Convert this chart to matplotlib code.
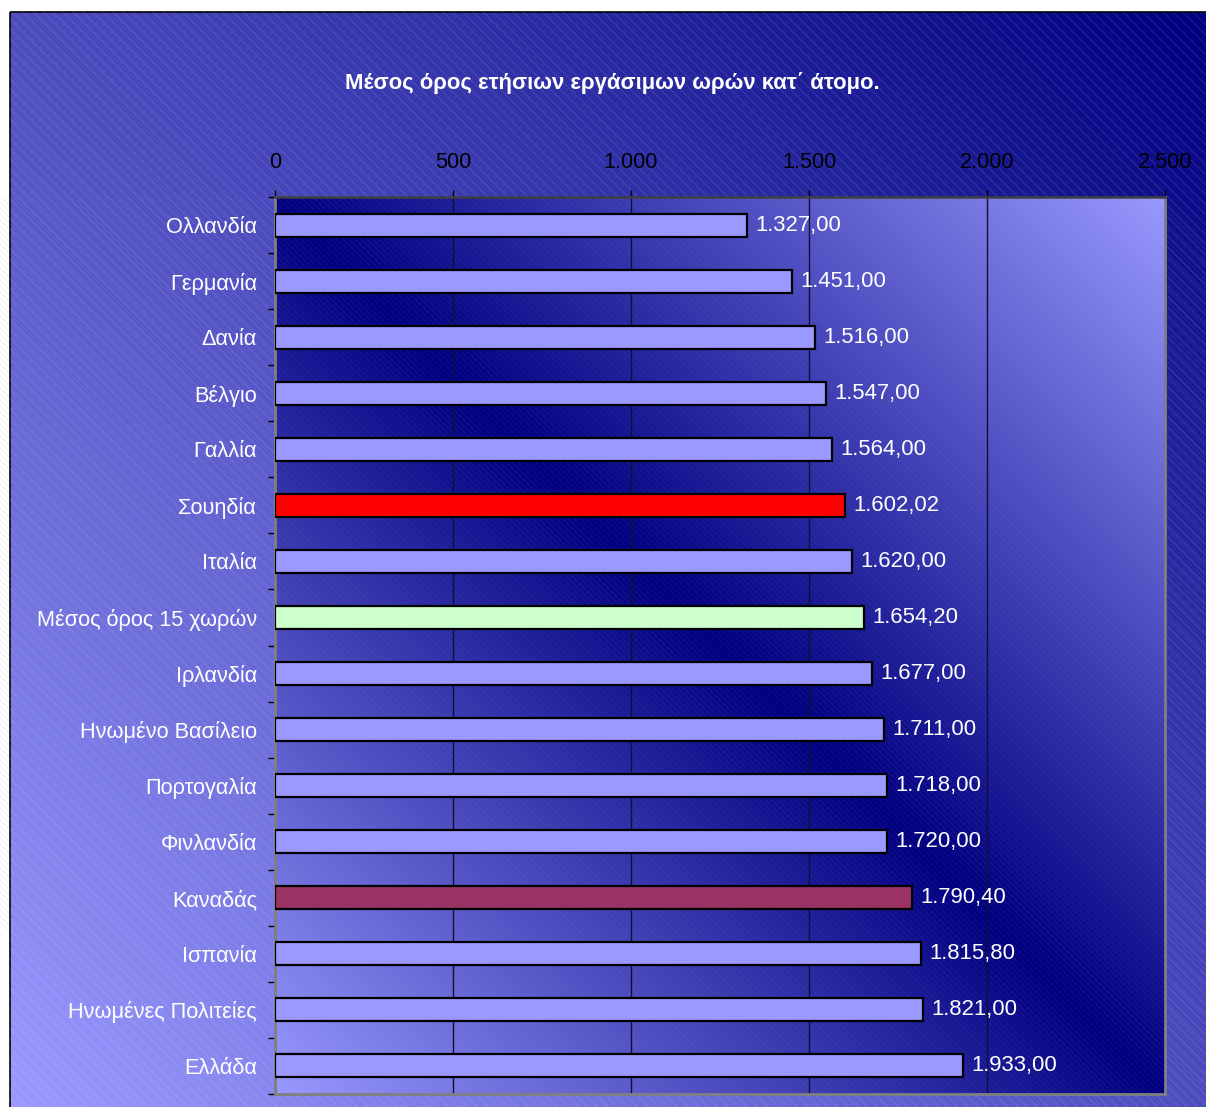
import numpy as np
import matplotlib
matplotlib.use('Agg')
import matplotlib.pyplot as plt
from matplotlib.collections import LineCollection
from matplotlib.colors import LinearSegmentedColormap
from matplotlib.patches import Rectangle

plt.rcParams['font.family'] = ['Liberation Sans', 'DejaVu Sans']

# ------------------------------------------------------------
# 数据
# ------------------------------------------------------------
title = 'Μέσος όρος ετήσιων εργάσιμων ωρών κατ΄ άτομο.'
countries = ['Ολλανδία', 'Γερμανία', 'Δανία', 'Βέλγιο', 'Γαλλία', 'Σουηδία',
             'Ιταλία', 'Μέσος όρος 15 χωρών', 'Ιρλανδία', 'Ηνωμένο Βασίλειο',
             'Πορτογαλία', 'Φινλανδία', 'Καναδάς', 'Ισπανία',
             'Ηνωμένες Πολιτείες', 'Ελλάδα']
hours = [1327.00, 1451.00, 1516.00, 1547.00, 1564.00, 1602.02,
         1620.00, 1654.20, 1677.00, 1711.00, 1718.00, 1720.00,
         1790.40, 1815.80, 1821.00, 1933.00]
x_ticks = [0, 500, 1000, 1500, 2000, 2500]

# 样式
base_color = '#9999ff'
highlight = {'Σουηδία': '#ff0000', 'Μέσος όρος 15 χωρών': '#ccffcc',
             'Καναδάς': '#993366'}


def fmt_gr(v, dec=2):
    """希腊格式: 千位用点, 小数用逗号"""
    s = f"{v:,.{dec}f}"
    return s.replace(',', '#').replace('.', ',').replace('#', '.')


W, H = 1206, 1107
fig = plt.figure(figsize=(W / 100, H / 100), dpi=100, facecolor='white')

# ------------------------------------------------------------
# 背景 (像素坐标)
# ------------------------------------------------------------
bg = fig.add_axes([0, 0, 1, 1], zorder=0)
bg.set_xlim(0, W)
bg.set_ylim(H, 0)
bg.axis('off')

cmap = LinearSegmentedColormap.from_list('blu', ['#9999ff', '#000080'])

# 图表区渐变: 左下浅 -> 右上深
fx0, fy0 = 10, 12
gx, gy = np.meshgrid(np.linspace(0, 1, 300), np.linspace(0, 1, 300))
t_fig = (gx + (1 - gy)) / 2
bg.imshow(t_fig, cmap=cmap, vmin=0, vmax=1, extent=(fx0, W, H, fy0),
          origin='upper', aspect='auto', interpolation='bilinear', zorder=0)

frame = Rectangle((fx0, fy0), W, H, fill=False, edgecolor='black', lw=1.2, zorder=1)
bg.add_patch(frame)

# 斜线纹理
segs = [[(x0, fy0), (x0 + H, fy0 + H)] for x0 in np.arange(fx0 - H, W, 10)]
lc = LineCollection(segs, colors='white', alpha=0.16, linewidths=0.5, zorder=1)
lc.set_clip_path(Rectangle((fx0, fy0), W, H, transform=bg.transData))
bg.add_collection(lc)

# 绘图区渐变: 主对角线深, 右上/左下浅
px0, px1, py0, py1 = 275, 1165, 197, 1094
t_plot = 1 - np.abs(gx - gy)
bg.imshow(t_plot, cmap=cmap, vmin=0, vmax=1, extent=(px0, px1, py1, py0),
          origin='upper', aspect='auto', interpolation='bilinear', zorder=2)
segs2 = [[(x0, py0), (x0 + 1000, py0 + 1000)] for x0 in np.arange(px0 - 1000, px1, 6)]
lc2 = LineCollection(segs2, colors='#8080c8', alpha=0.15, linewidths=0.5, zorder=3)
lc2.set_clip_path(Rectangle((px0, py0), px1 - px0, py1 - py0, transform=bg.transData))
bg.add_collection(lc2)

# ------------------------------------------------------------
# 条形图
# ------------------------------------------------------------
ax = fig.add_axes([px0 / W, 1 - py1 / H, (px1 - px0) / W, (py1 - py0) / H], zorder=2)
ax.patch.set_visible(False)

y = np.arange(len(countries))
colors = [highlight.get(c, base_color) for c in countries]
ax.barh(y, hours, height=0.41, color=colors, edgecolor='black', linewidth=1.6, zorder=3)

for i, v in enumerate(hours):
    ax.annotate(fmt_gr(v), (v, i), xytext=(6, 0), textcoords='offset points',
                ha='left', va='center', color='white', fontsize=15.9, zorder=4)

ax.set_xlim(0, 2500)
ax.set_ylim(len(countries) - 0.5, -0.5)

ax.xaxis.tick_top()
ax.set_xticks(x_ticks)
ax.set_xticklabels([fmt_gr(v, 0) for v in x_ticks])
ax.tick_params(axis='x', direction='out', length=5, width=1, color='black',
               pad=12, labelsize=15.6, labelcolor='black')
ax.set_axisbelow(True)
ax.xaxis.grid(True, color='#101030', linewidth=1)

ax.set_yticks(y)
ax.set_yticklabels(countries)
ax.set_yticks(np.arange(-0.5, len(countries), 1), minor=True)
ax.tick_params(axis='y', which='major', length=0, pad=13, labelsize=15.7,
               labelcolor='white')
ax.tick_params(axis='y', which='minor', direction='out', length=5, width=1,
               color='black')

for side in ['left', 'right', 'bottom']:
    ax.spines[side].set_color('#808080')
    ax.spines[side].set_linewidth(2)
ax.spines['top'].set_color('#404040')
ax.spines['top'].set_linewidth(1.8)

fig.text(612 / W, 1 - 83 / H, title, ha='center', va='center',
         color='white', fontsize=15.9, fontweight='bold')

fig.savefig('out.png', dpi=100)
